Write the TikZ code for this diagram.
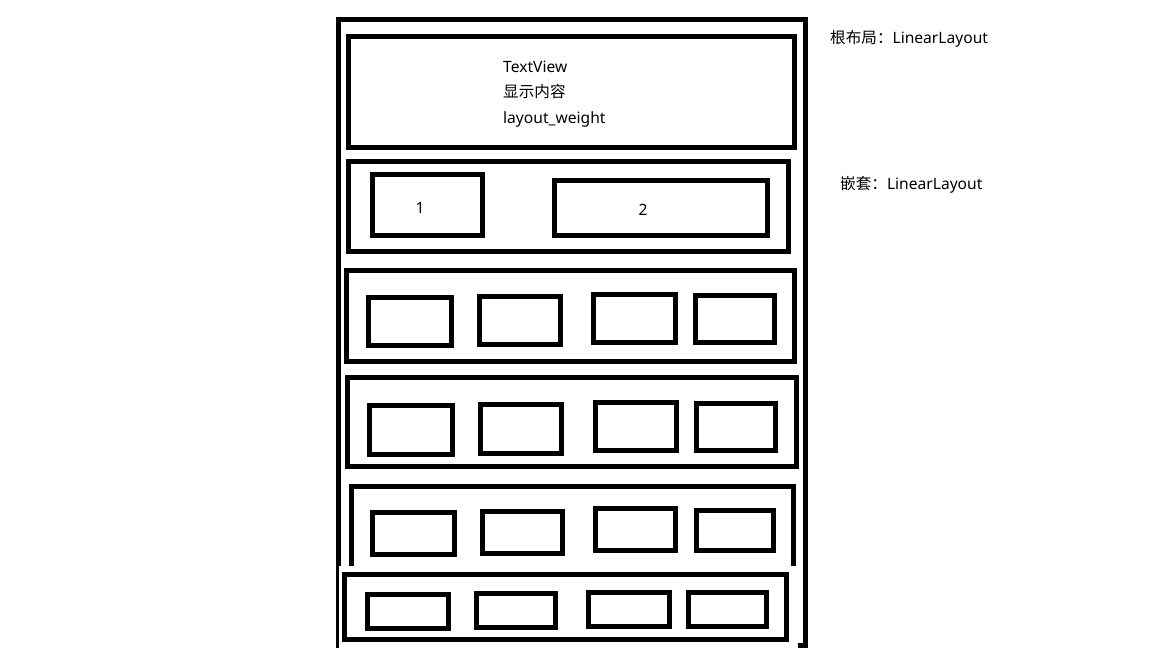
\documentclass[tikz,border=0pt]{standalone}
\usepackage{fontspec}
\setmainfont{Noto Sans}
\newfontfamily\cjk{Noto Sans CJK SC}
\tikzset{
  boxn/.style={draw, line width=5pt, inner sep=0pt, outer sep=0pt, fill=none},
  lbl/.style={anchor=base west, inner sep=0pt, font=\fontsize{15.6}{18}\selectfont},
  num/.style={anchor=base, inner sep=0pt, font=\fontsize{15.6}{18}\selectfont},
}
\newcommand\mybox[5]{%
  \node[boxn, minimum width={#4-#2}, minimum height={#5-#3}] (#1) at ({(#2+#4)/2},{(#3+#5)/2}) {};}
\begin{document}
\begin{tikzpicture}[x=1pt,y=-1pt]
\useasboundingbox (0,0) rectangle (1152,648);
% root frame (open at bottom)
\draw[line width=5pt, line join=miter] (338.5,650) -- (338.5,19.8) -- (805,19.8) -- (805,645.5) -- (795,645.5);
% row 0: TextView
\mybox{r0}{348.5}{36.5}{794}{147.5}
\node[lbl] (t1) at (503,72) {TextView};
\node[lbl] (t2) at (503,97.5) {\cjk 显示内容};
\node[lbl] (t3) at (503,123) {layout\_weight};
% row 1
\mybox{r1}{348.5}{161.5}{788}{251.5}
\mybox{b1}{372.5}{174.5}{482.5}{235}
\mybox{b2}{554.5}{180.5}{767}{235.5}
\node[num] (n1) at (420,213.3) {1};
\node[num] (n2) at (643,215.5) {2};
% row 2
\mybox{r2}{346.5}{270}{794}{361.5}
\mybox{r2a}{368.5}{297.5}{451.5}{345.5}
\mybox{r2b}{479}{296.5}{560}{344.5}
\mybox{r2c}{593.5}{294.5}{675}{342}
\mybox{r2d}{695.5}{295.5}{774}{342}
% row 3
\mybox{r3}{347.5}{377.5}{796.5}{466.5}
\mybox{r3a}{369}{405}{452.5}{454}
\mybox{r3b}{480.5}{404.5}{561}{453.5}
\mybox{r3c}{595}{402}{676.5}{450.5}
\mybox{r3d}{696.5}{403}{775}{450.5}
% row 4
\mybox{r4}{351}{486.5}{793}{600}
\mybox{r4a}{372.5}{512}{454}{554}
\mybox{r4b}{482.5}{511}{562.5}{553}
\mybox{r4c}{595}{508.5}{675}{550.5}
\mybox{r4d}{696}{510}{773.5}{550.5}
% pasted patch over the bottom
\fill[white] (339.4,566) rectangle (797.5,650);
% row 5
\mybox{r5}{344}{574}{786.5}{639}
\mybox{r5a}{367}{594}{448.5}{628}
\mybox{r5b}{476}{593}{555}{627.5}
\mybox{r5c}{588.5}{592}{669}{626}
\mybox{r5d}{688.5}{592}{766}{626}
% side notes
\node[lbl] (s1) at (830,43.3) {{\cjk 根布局：}LinearLayout};
\node[lbl] (s2) at (840,189.3) {{\cjk 嵌套：}LinearLayout};
\end{tikzpicture}
\end{document}
